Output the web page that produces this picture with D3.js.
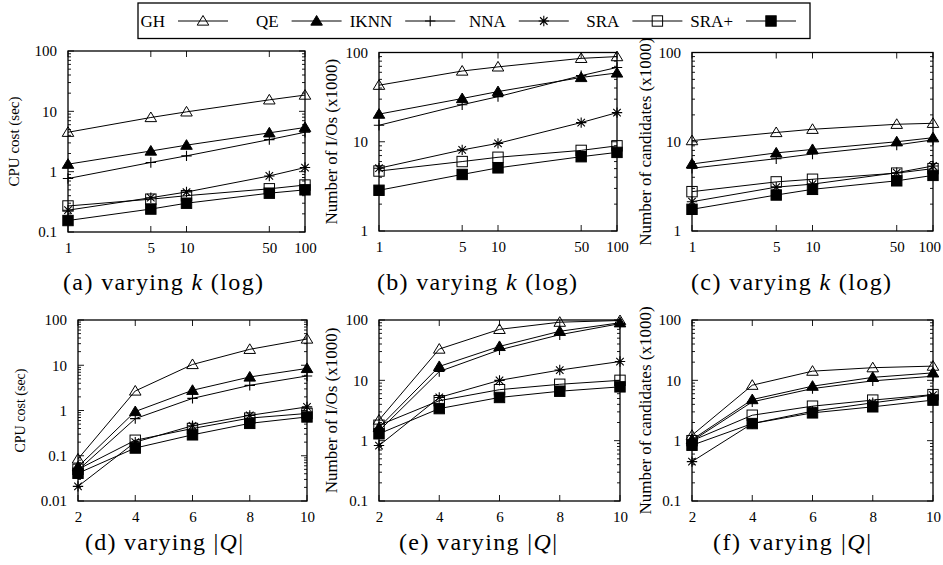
<!DOCTYPE html>
<html><head><meta charset="utf-8">
<script src="https://cdn.jsdelivr.net/npm/d3@7"></script>
<style>body{margin:0;background:#fff}svg{display:block}</style>
</head><body>
<svg id="c" width="943" height="565"></svg>
<script>
// ---- data ----
const seriesNames = ["GH","QE","IKNN","NNA","SRA","SRA+"];
const kValues = [1,5,10,50,100];
const qValues = [2,4,6,8,10];
const kTickLabels = ["1","5","10","50","100"];
const qTickLabels = ["2","4","6","8","10"];

const cpuK = {
  "GH":[4.5,7.9,9.8,15.5,18.6],
  "QE":[1.33,2.2,2.75,4.4,5.4],
  "IKNN":[0.77,1.42,1.83,3.4,4.5],
  "NNA":[0.23,0.37,0.46,0.85,1.17],
  "SRA":[0.27,0.35,0.40,0.52,0.6],
  "SRA+":[0.155,0.24,0.30,0.44,0.50]
};
const ioK = {
  "GH":[43,62,69,86,90],
  "QE":[20.4,30.5,36.5,52.5,59],
  "IKNN":[15.3,26,32,55,68],
  "NNA":[5.05,8.1,9.6,16.4,21.2],
  "SRA":[4.7,6.0,6.7,8.0,9.0],
  "SRA+":[2.86,4.3,5.1,6.8,7.6]
};
const candK = {
  "GH":[10.3,12.7,13.8,15.7,16.1],
  "QE":[5.64,7.5,8.2,10.0,11.1],
  "IKNN":[5.05,6.46,7.3,9.2,10.5],
  "NNA":[2.13,3.1,3.35,4.5,5.35],
  "SRA":[2.76,3.55,3.8,4.45,5.0],
  "SRA+":[1.75,2.53,2.93,3.65,4.2]
};
const cpuQ = {
  "GH":[0.085,2.7,10.4,22.5,38],
  "QE":[0.057,0.95,2.8,5.5,8.5],
  "IKNN":[0.048,0.66,1.85,3.6,5.8],
  "NNA":[0.021,0.20,0.46,0.78,1.2],
  "SRA":[0.05,0.22,0.40,0.68,0.86],
  "SRA+":[0.041,0.148,0.29,0.52,0.72]
};
const ioQ = {
  "GH":[2.2,33,70,92,98],
  "QE":[1.65,17,36.5,65,90],
  "IKNN":[1.45,14,32,57,87],
  "NNA":[0.83,5.2,10,14.8,20.5],
  "SRA":[1.8,4.6,7.0,8.6,10],
  "SRA+":[1.3,3.4,5.2,6.6,7.8]
};
const candQ = {
  "GH":[1.23,8.3,14.2,16.2,17.2],
  "QE":[1.04,4.8,8.0,11.2,13.3],
  "IKNN":[0.99,4.4,7.3,9.8,11.7],
  "NNA":[0.45,1.92,3.08,4.24,5.7],
  "SRA":[1.0,2.64,3.73,4.7,5.8],
  "SRA+":[0.84,1.92,2.89,3.64,4.7]
};

// ---- layout ----
const panels = [
  {id:"a", data:cpuK, xs:kValues, xl:kTickLabels, xlog:true, yd:[0.1,100], yt:["100","10","1","0.1"], ylab:"CPU cost (sec)", labFs:15, x0:68, x1:305, y0:51, y1:232, cx:163, capY:290, capW:200, labX:14},
  {id:"b", data:ioK, xs:kValues, xl:kTickLabels, xlog:true, yd:[1,100], yt:["100","10","1"], ylab:"Number of I/Os (x1000)", labFs:17, x0:379, x1:617, y0:52.5, y1:231, cx:477, capY:290, capW:200, labX:331},
  {id:"c", data:candK, xs:kValues, xl:kTickLabels, xlog:true, yd:[1,100], yt:["100","10","1"], ylab:"Number of candidates (x1000)", labFs:17, x0:692, x1:933, y0:52.5, y1:231, cx:791, capY:290, capW:200, labX:645},
  {id:"d", data:cpuQ, xs:qValues, xl:qTickLabels, xlog:false, yd:[0.01,100], yt:["100","10","1","0.1","0.01"], ylab:"CPU cost (sec)", labFs:14, x0:78, x1:307, y0:320, y1:501, cx:164, capY:550, capW:158, labX:20},
  {id:"e", data:ioQ, xs:qValues, xl:qTickLabels, xlog:false, yd:[0.1,100], yt:["100","10","1","0.1"], ylab:"Number of I/Os (x1000)", labFs:17, x0:379, x1:620, y0:320, y1:501, cx:478, capY:550, capW:158, labX:331},
  {id:"f", data:candQ, xs:qValues, xl:qTickLabels, xlog:false, yd:[0.1,100], yt:["100","10","1","0.1"], ylab:"Number of candidates (x1000)", labFs:17, x0:692, x1:933, y0:320, y1:501, cx:792, capY:550, capW:158, labX:645}
];
const captions = {
  a:["(a) varying ","k"," (log)"], b:["(b) varying ","k"," (log)"], c:["(c) varying ","k"," (log)"],
  d:["(d) varying |","Q","|"], e:["(e) varying |","Q","|"], f:["(f) varying |","Q","|"]
};

const svg = d3.select("#c");
const FONT = "'Liberation Serif','Times New Roman',serif";

// marker drawing
function marker(g, name, x, y) {
  const s = 5.2;
  if (name === "GH" || name === "QE") {
    const h = 5.5;
    g.append("path").attr("d", `M${x},${y-h}L${x+h*1.05},${y+h*0.75}L${x-h*1.05},${y+h*0.75}Z`)
      .attr("fill", name==="QE" ? "#000" : "none").attr("stroke","#000").attr("stroke-width",1);
  } else if (name === "IKNN") {
    g.append("path").attr("d", `M${x-s},${y}H${x+s}M${x},${y-s}V${y+s}`).attr("stroke","#000").attr("stroke-width",1.1).attr("fill","none");
  } else if (name === "NNA") {
    const d = s*0.72;
    g.append("path").attr("d", `M${x-s},${y}H${x+s}M${x},${y-s}V${y+s}M${x-d},${y-d}L${x+d},${y+d}M${x-d},${y+d}L${x+d},${y-d}`)
      .attr("stroke","#000").attr("stroke-width",1.1).attr("fill","none");
  } else if (name === "SRA") {
    g.append("rect").attr("x",x-s).attr("y",y-s).attr("width",2*s).attr("height",2*s).attr("fill","none").attr("stroke","#000").attr("stroke-width",1);
  } else {
    g.append("rect").attr("x",x-s).attr("y",y-s).attr("width",2*s).attr("height",2*s).attr("fill","#000").attr("stroke","#000").attr("stroke-width",1);
  }
}

panels.forEach(p => {
  const g = svg.append("g");
  const x = (p.xlog ? d3.scaleLog() : d3.scaleLinear()).domain([p.xs[0], p.xs[p.xs.length-1]]).range([p.x0, p.x1]);
  const y = d3.scaleLog().domain(p.yd).range([p.y1, p.y0]);

  // frame
  g.append("rect").attr("x",p.x0).attr("y",p.y0).attr("width",p.x1-p.x0).attr("height",p.y1-p.y0)
    .attr("fill","none").attr("stroke","#000").attr("stroke-width",1.3);

  // y ticks (major + minor), mirrored
  const lo = Math.round(Math.log10(p.yd[0])), hi = Math.round(Math.log10(p.yd[1]));
  const ticks = g.append("g").attr("stroke","#000").attr("stroke-width",0.9);
  for (let e = lo; e <= hi; e++) {
    const base = Math.pow(10, e);
    const yy = y(base);
    ticks.append("line").attr("x1",p.x0).attr("x2",p.x0+6).attr("y1",yy).attr("y2",yy);
    ticks.append("line").attr("x1",p.x1).attr("x2",p.x1-6).attr("y1",yy).attr("y2",yy);
    if (e < hi) for (let m = 2; m <= 9; m++) {
      const ym = y(base*m);
      ticks.append("line").attr("x1",p.x0).attr("x2",p.x0+3).attr("y1",ym).attr("y2",ym);
      ticks.append("line").attr("x1",p.x1).attr("x2",p.x1-3).attr("y1",ym).attr("y2",ym);
    }
  }
  // y tick labels
  const yAxis = d3.axisLeft(y).tickValues(p.yt.map(Number)).tickFormat((d,i)=>p.yt[i]).tickSize(0).tickPadding(11);
  const ya = g.append("g").attr("transform",`translate(${p.x0},0)`).call(yAxis);
  ya.select(".domain").remove();
  ya.selectAll("text").attr("font-family",FONT).attr("font-size",15).attr("fill","#000");

  // x ticks mirrored
  p.xs.forEach(v => {
    ticks.append("line").attr("x1",x(v)).attr("x2",x(v)).attr("y1",p.y1).attr("y2",p.y1-6);
    ticks.append("line").attr("x1",x(v)).attr("x2",x(v)).attr("y1",p.y0).attr("y2",p.y0+6);
  });
  const xAxis = d3.axisBottom(x).tickValues(p.xs).tickFormat((d,i)=>p.xl[i]).tickSize(0).tickPadding(10);
  const xa = g.append("g").attr("transform",`translate(0,${p.y1})`).call(xAxis);
  xa.select(".domain").remove();
  xa.selectAll("text").attr("font-family",FONT).attr("font-size",15).attr("fill","#000");
  // keep the last label inside the picture
  xa.selectAll("text").each(function(){
    const bb = this.getBBox();
    const tr = this.parentNode.getAttribute("transform");
    const tx = +tr.match(/translate\(([-\d.]+)/)[1];
    const over = tx + bb.x + bb.width - 941;
    if (over > 0) d3.select(this).attr("dx", -over);
  });

  // y label
  g.append("text").attr("transform",`translate(${p.labX},${(p.y0+p.y1)/2}) rotate(-90)`)
    .attr("text-anchor","middle").attr("dominant-baseline","central")
    .attr("font-family",FONT).attr("font-size",p.labFs).text(p.ylab);

  // caption
  const cap = captions[p.id];
  const t = g.append("text").attr("x",p.cx).attr("y",p.capY).attr("text-anchor","middle")
    .attr("font-family",FONT).attr("font-size",24)
    .attr("textLength",p.capW).attr("lengthAdjust","spacing");
  t.append("tspan").text(cap[0]);
  t.append("tspan").attr("font-style","italic").text(cap[1]);
  t.append("tspan").text(cap[2]);

  // lines and markers
  const line = d3.line().x((d,i)=>x(p.xs[i])).y(d=>y(d));
  seriesNames.forEach(n => {
    g.append("path").attr("d", line(p.data[n])).attr("fill","none").attr("stroke","#000").attr("stroke-width",1);
  });
  seriesNames.forEach(n => {
    p.data[n].forEach((v,i) => marker(g, n, x(p.xs[i]), y(v)));
  });
});

// legend
const lg = svg.append("g");
lg.append("rect").attr("x",138).attr("y",3).attr("width",672).attr("height",35.5)
  .attr("fill","#fff").attr("stroke","#000").attr("stroke-width",1.3);
seriesNames.forEach((n,i) => {
  const te = 165 + 113.6*i;
  const ly = 21;
  lg.append("text").attr("x",te).attr("y",ly).attr("text-anchor","end").attr("dominant-baseline","central")
    .attr("font-family",FONT).attr("font-size",17).text(n);
  lg.append("line").attr("x1",te+13).attr("x2",te+63).attr("y1",ly).attr("y2",ly).attr("stroke","#000").attr("stroke-width",1);
  marker(lg, n, te+38, ly);
});
</script>
</body></html>
